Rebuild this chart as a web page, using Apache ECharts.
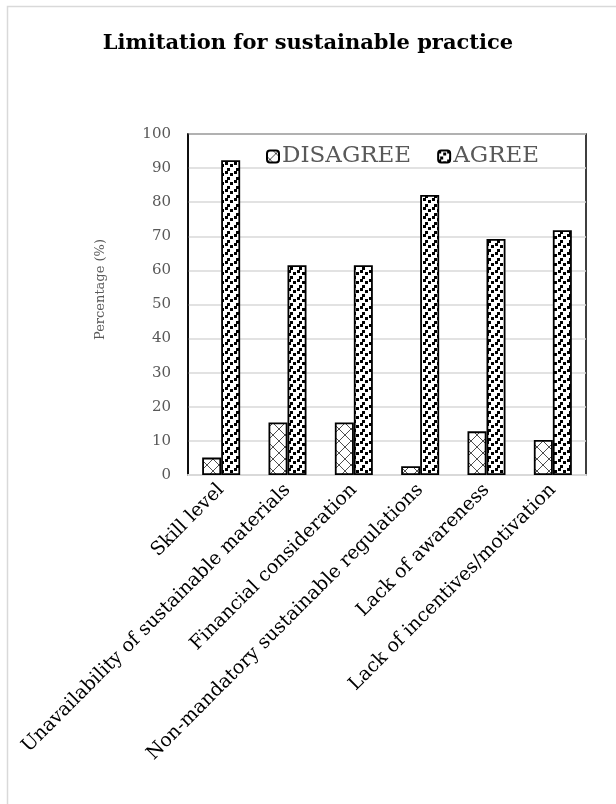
<!DOCTYPE html>
<html>
<head>
<meta charset="utf-8">
<script src="https://cdn.jsdelivr.net/npm/echarts@6/dist/echarts.min.js"></script>
<style>
  html, body { margin: 0; padding: 0; background: #ffffff; }
  #chart { width: 616px; height: 804px; }
</style>
</head>
<body>
<div id="chart"></div>
<script>
// Survey responses (% of respondents)
const categories = [
  'Skill level',
  'Unavailability of sustainable materials',
  'Financial consideration',
  'Non-mandatory sustainable regulations',
  'Lack of awareness',
  'Lack of incentives/motivation'
];
const disagreeValues = [5.1, 15.4, 15.4, 2.6, 12.8, 10.3];
const agreeValues = [92.3, 61.5, 61.5, 82.1, 69.2, 71.8];
const yTicks = [0, 10, 20, 30, 40, 50, 60, 70, 80, 90, 100];

const SERIF = '"DejaVu Serif", "Liberation Serif", serif';

// Hatched fill: thin diagonal trellis on white
function hatchPattern() {
  const c = document.createElement('canvas');
  c.width = 12; c.height = 12;
  const g = c.getContext('2d');
  g.fillStyle = '#ffffff';
  g.fillRect(0, 0, 12, 12);
  g.strokeStyle = '#3a3a3a';
  g.lineWidth = 0.9;
  g.beginPath();
  g.moveTo(0, 12); g.lineTo(12, 0);
  g.moveTo(0, 6); g.lineTo(6, 12);
  g.moveTo(6, 0); g.lineTo(12, 6);
  g.stroke();
  return c;
}

// Confetti fill: scattered black squares on white
function confettiPattern() {
  const c = document.createElement('canvas');
  c.width = 9; c.height = 9;
  const g = c.getContext('2d');
  g.fillStyle = '#ffffff';
  g.fillRect(0, 0, 9, 9);
  g.fillStyle = '#000000';
  g.fillRect(0, 0, 3, 3);
  g.fillRect(5, 2, 3, 3);
  g.fillRect(2, 6, 3, 3);
  return c;
}

const chart = echarts.init(document.getElementById('chart'), null, { renderer: 'canvas' });

chart.setOption({
  backgroundColor: '#ffffff',
  animation: false,
  title: {
    text: 'Limitation for sustainable practice',
    left: 'center',
    top: 28,
    textStyle: { fontFamily: SERIF, fontWeight: 'bold', fontSize: 21, color: '#000000' }
  },
  graphic: [{
    type: 'rect',
    left: 5, top: 4,
    shape: { width: 700, height: 900 },
    style: { fill: 'none', stroke: '#d9d9d9', lineWidth: 1.5 },
    silent: true,
    z: -1
  }],
  legend: {
    data: ['DISAGREE', 'AGREE'],
    left: 261,
    top: 140,
    itemWidth: 12,
    itemHeight: 12,
    itemGap: 26,
    textStyle: { fontFamily: SERIF, fontSize: 23, color: '#595959', padding: [0, 0, 0, -2] }
  },
  grid: {
    left: 188, right: 30, top: 134, bottom: 329,
    show: true,
    borderColor: '#000000',
    borderWidth: 1.5,
    containLabel: false
  },
  xAxis: {
    type: 'category',
    data: categories,
    axisLine: { show: true, lineStyle: { color: '#d9d9d9', width: 2 } },
    axisTick: { show: false },
    axisLabel: {
      rotate: 45,
      interval: 0,
      margin: 12,
      fontFamily: SERIF,
      fontSize: 19,
      color: '#000000'
    }
  },
  yAxis: {
    type: 'value',
    min: yTicks[0],
    max: yTicks[yTicks.length - 1],
    interval: yTicks[1] - yTicks[0],
    name: 'Percentage (%)',
    nameLocation: 'middle',
    nameRotate: 90,
    nameGap: 81,
    nameTextStyle: { fontFamily: SERIF, fontSize: 13, color: '#595959', padding: [0, 0, 0, 30] },
    axisLine: { show: true, lineStyle: { color: '#000000', width: 1.5 } },
    axisTick: { show: false },
    axisLabel: { fontFamily: SERIF, fontSize: 15, color: '#595959', margin: 17 },
    splitLine: { show: true, lineStyle: { color: '#d9d9d9', width: 1.5 } }
  },
  series: [
    {
      name: 'DISAGREE',
      type: 'bar',
      data: disagreeValues,
      barWidth: 19,
      barGap: '0%',
      itemStyle: {
        color: { image: hatchPattern(), repeat: 'repeat' },
        borderColor: '#000000',
        borderWidth: 1.8
      }
    },
    {
      name: 'AGREE',
      type: 'bar',
      data: agreeValues,
      barWidth: 19,
      barGap: '0%',
      itemStyle: {
        color: { image: confettiPattern(), repeat: 'repeat' },
        borderColor: '#000000',
        borderWidth: 1.8
      }
    }
  ]
});
</script>
</body>
</html>
